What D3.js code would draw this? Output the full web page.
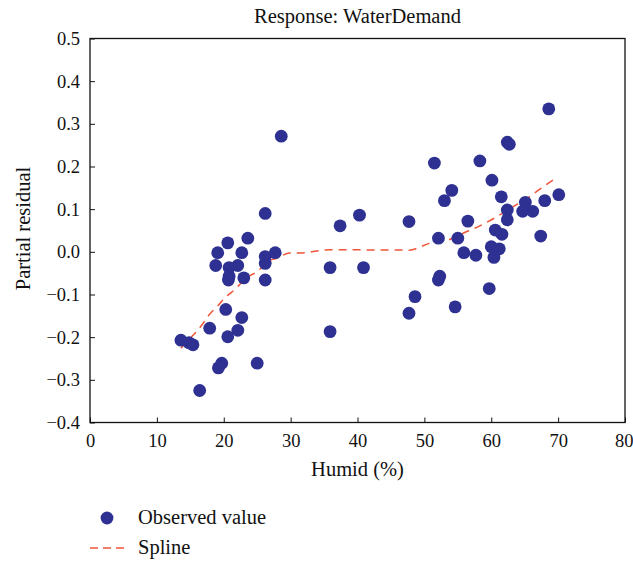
<!DOCTYPE html>
<html>
<head>
<meta charset="utf-8">
<script src="https://cdn.jsdelivr.net/npm/d3@7/dist/d3.min.js"></script>
<style>
  html, body { margin: 0; padding: 0; background: #fff; }
  svg { display: block; }
  text { font-family: "Liberation Serif", "Times New Roman", serif; fill: #111; }
</style>
</head>
<body>
<svg id="chart" width="633" height="563"></svg>
<script>
// ---- Data ----
const title = "Response: WaterDemand";
const xLabel = "Humid (%)";
const yLabel = "Partial residual";
const xTicks = [0, 10, 20, 30, 40, 50, 60, 70, 80];
const yTicks = [-0.4, -0.3, -0.2, -0.1, 0.0, 0.1, 0.2, 0.3, 0.4, 0.5];

const obsHumid = [
  26.2, 23.6, 20.6, 19.1, 22.7, 27.7, 26.2, 18.8, 20.8, 22.1, 26.2, 20.8, 20.7, 23.0,
  26.2, 20.3, 22.7, 17.9, 22.1, 20.6, 13.6, 14.8, 15.4, 19.7, 19.2, 25.0, 16.4, 28.6,
  37.4, 40.3, 47.7, 35.9, 40.9, 48.6, 47.7, 35.9,
  68.6, 62.4, 62.7, 51.5, 58.3, 60.1, 54.1, 53.0, 61.5, 65.1, 68.0, 70.1, 62.4, 64.7,
  66.2, 56.5, 62.4, 60.6, 61.6, 67.4, 52.1, 55.0, 60.0, 61.2, 60.4, 55.9, 57.7, 52.3,
  52.1, 59.7, 54.6
];
const obsResidual = [
  0.090, 0.032, 0.021, -0.002, -0.002, -0.002, -0.011, -0.032, -0.037, -0.032, -0.027, -0.057, -0.066, -0.061,
  -0.066, -0.135, -0.154, -0.179, -0.184, -0.199, -0.207, -0.213, -0.218, -0.261, -0.272, -0.261, -0.325, 0.271,
  0.061, 0.086, 0.071, -0.037, -0.037, -0.105, -0.144, -0.187,
  0.335, 0.257, 0.252, 0.208, 0.213, 0.168, 0.144, 0.120, 0.129, 0.116, 0.120, 0.134, 0.098, 0.095,
  0.095, 0.072, 0.075, 0.051, 0.041, 0.037, 0.032, 0.032, 0.012, 0.007, -0.013, -0.002, -0.008, -0.057,
  -0.066, -0.086, -0.129
];

const splineHumid = [13.6, 14.7, 15.9, 16.9, 17.8, 19.2, 20.2, 21.3, 22.3, 23.7, 24.7, 25.7, 26.7, 27.9,
  29.9, 31.4, 34.9, 35.9, 47.7, 50.8, 53.6, 56.1, 58.3, 60.8, 63.1, 65.3, 68.0, 69.9];
const splineResidual = [-0.226, -0.207, -0.187, -0.168, -0.148, -0.125, -0.107, -0.093, -0.078, -0.058, -0.049, -0.037, -0.022, -0.015,
  -0.003, -0.003, 0.004, 0.005, 0.004, 0.020, 0.028, 0.046, 0.061, 0.082, 0.104, 0.125, 0.155, 0.175];

const legendLabels = ["Observed value", "Spline"];

// ---- Layout ----
const svg = d3.select("#chart");
const L = 90, R = 625, T = 38.5, B = 422.5;
const dotColor = "#2e3192";
const splineColor = "#f0553a";

const x = d3.scaleLinear().domain([0, 80]).range([L, R]);
const y = d3.scaleLinear().domain([-0.4, 0.5]).range([B, T]);

// Axes
const xAxis = d3.axisBottom(x).tickValues(xTicks).tickSize(-5).tickPadding(11).tickFormat(d3.format("d"));
const gx = svg.append("g").attr("transform", `translate(0,${B})`).call(xAxis);
gx.select(".domain").remove();
gx.selectAll("text").style("font-size", "18.5px").attr("fill", "#111");
gx.selectAll(".tick text").filter((d) => d === 80).attr("text-anchor", "end").attr("dx", "8px");

const yAxis = d3.axisLeft(y).tickValues(yTicks).tickSize(-5).tickPadding(10).tickFormat(d3.format(".1f"));
const gy = svg.append("g").attr("transform", `translate(${L},0)`).call(yAxis);
gy.select(".domain").remove();
gy.selectAll("text").style("font-size", "18.5px").attr("fill", "#111");

svg.selectAll(".tick line").attr("stroke", "#111").attr("stroke-width", 1);

// Frame
svg.append("rect").attr("x", L).attr("y", T).attr("width", R - L).attr("height", B - T)
  .attr("fill", "none").attr("stroke", "#111").attr("stroke-width", 1.3);

// Spline
const line = d3.line().x((d, i) => x(splineHumid[i])).y((d, i) => y(splineResidual[i])).curve(d3.curveMonotoneX);
svg.append("path").datum(splineHumid).attr("d", line)
  .attr("fill", "none").attr("stroke", splineColor).attr("stroke-width", 1.5)
  .attr("stroke-dasharray", "8,6");

// Points
svg.append("g").selectAll("circle").data(obsHumid).join("circle")
  .attr("cx", (d) => x(d)).attr("cy", (d, i) => y(obsResidual[i])).attr("r", 6.4)
  .attr("fill", dotColor);

// Titles
svg.append("text").attr("x", (L + R) / 2).attr("y", 23).attr("text-anchor", "middle")
  .style("font-size", "20.5px").text(title);
svg.append("text").attr("x", (L + R) / 2).attr("y", 476).attr("text-anchor", "middle")
  .style("font-size", "20.5px").text(xLabel);
svg.append("text").attr("transform", `translate(30,${(T + B) / 2 - 2}) rotate(-90)`).attr("text-anchor", "middle")
  .style("font-size", "20.5px").text(yLabel);

// Legend
const lg = svg.append("g");
lg.append("circle").attr("cx", 107).attr("cy", 518).attr("r", 6.4).attr("fill", dotColor);
lg.append("text").attr("x", 138).attr("y", 524).style("font-size", "20.5px").text(legendLabels[0]);
lg.append("line").attr("x1", 90).attr("x2", 124).attr("y1", 548).attr("y2", 548)
  .attr("stroke", splineColor).attr("stroke-width", 1.5).attr("stroke-dasharray", "8,5");
lg.append("text").attr("x", 138).attr("y", 554).style("font-size", "20.5px").text(legendLabels[1]);
</script>
</body>
</html>
